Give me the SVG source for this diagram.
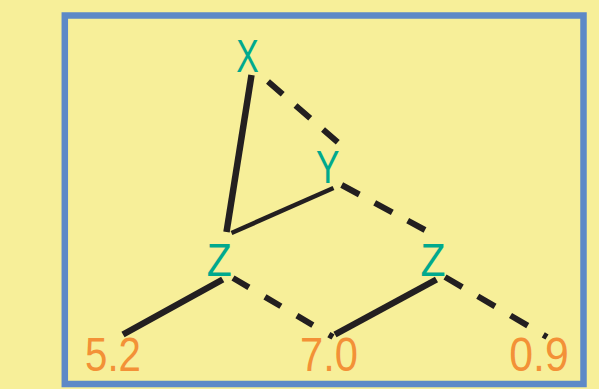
<svg xmlns="http://www.w3.org/2000/svg" width="599" height="389" viewBox="0 0 599 389">
<style>
.lbl{font-family:"Liberation Sans",Arial,sans-serif;font-size:46px;fill:#00A98D;text-anchor:middle}
.num{font-family:"Liberation Sans",Arial,sans-serif;font-size:47.5px;fill:#F39137;text-anchor:middle}
.solid{stroke:#231F20;stroke-width:6.5;fill:none}
.thin{stroke:#231F20;stroke-width:4.5;fill:none}
.dash{stroke:#231F20;stroke-width:6;fill:none}
</style>
<rect x="0" y="0" width="599" height="389" fill="#F7EF99"/>
<rect x="64.8" y="15.5" width="518.7" height="368.5" fill="none" stroke="#5D89C7" stroke-width="6.5"/>
<g id="connectors">
<line class="solid" x1="251.5" y1="75" x2="226.5" y2="232"/>
<line class="thin" x1="333.5" y1="188" x2="231.5" y2="233"/>
<line class="dash" x1="268" y1="81.5" x2="338" y2="142.5" stroke-dasharray="19.5 17"/>
<line class="dash" x1="341.7" y1="185" x2="425" y2="230" stroke-dasharray="20 17.5"/>
<line class="solid" x1="222.7" y1="279.5" x2="123" y2="334.5"/>
<line class="dash" x1="233" y1="278" x2="333" y2="337" stroke-dasharray="18.5 18.6"/>
<line class="solid" x1="436.5" y1="279.5" x2="335" y2="334.5"/>
<line class="dash" x1="445" y1="277" x2="547" y2="337" stroke-dasharray="20 18"/>
</g>
<g id="node-x"><text class="lbl" x="247.5" y="72" textLength="22.5" lengthAdjust="spacingAndGlyphs">X</text></g>
<g id="node-y"><text class="lbl" x="327.7" y="183" textLength="23.5" lengthAdjust="spacingAndGlyphs">Y</text></g>
<g id="node-z1"><text class="lbl" x="219.3" y="275.5" textLength="25" lengthAdjust="spacingAndGlyphs">Z</text></g>
<g id="node-z2"><text class="lbl" x="433" y="275.5" textLength="25" lengthAdjust="spacingAndGlyphs">Z</text></g>
<g id="leaf-52"><text class="num" x="113" y="371" textLength="56" lengthAdjust="spacingAndGlyphs">5.2</text></g>
<g id="leaf-70"><text class="num" x="329" y="371" textLength="58" lengthAdjust="spacingAndGlyphs">7.0</text></g>
<g id="leaf-09"><text class="num" x="539" y="371" textLength="59.5" lengthAdjust="spacingAndGlyphs">0.9</text></g>
</svg>
